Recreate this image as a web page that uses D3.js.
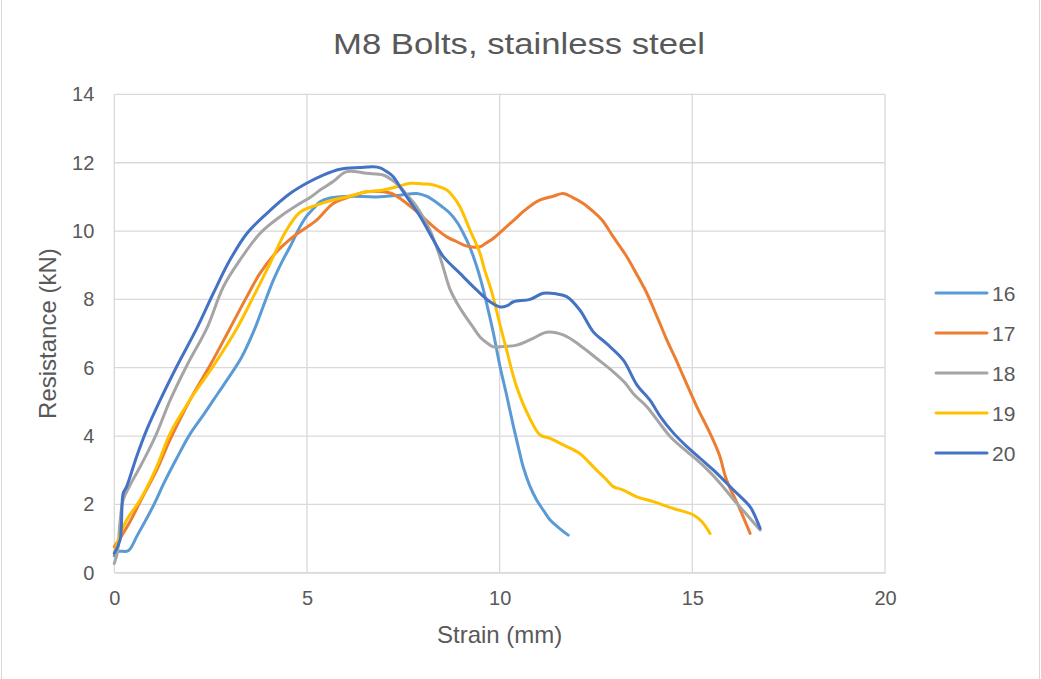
<!DOCTYPE html>
<html lang="en">
<head>
  <meta charset="UTF-8">
  <title>M8 Bolts, stainless steel</title>
  <script src="https://d3js.org/d3.v7.min.js"></script>
  <style>
    body {
      background: #fff;
      margin: 0;
    }
    text {
      font-family: 'Liberation Sans', Arial, sans-serif;
      fill: #595959;
    }
  </style>
</head>
<body>
  <script>
    // series names (legend)
    var seriesNames = ["16", "17", "18", "19", "20"];
    var seriesColors = ["#5B9BD5", "#ED7D31", "#A5A5A5", "#FFC000", "#4472C4"];

    // [strain (mm), resistance (kN)]
    var s16 = [[0,0.5],[0.1,0.62],[0.36,0.64],[0.6,1.1],[1.0,1.93],[1.3,2.65],[1.62,3.35],[1.96,4.05],[2.3,4.6],[2.57,5.05],[2.9,5.6],[3.3,6.3],[3.63,7.1],[3.9,7.9],[4.13,8.57],[4.35,9.1],[4.56,9.54],[4.82,10.13],[5.0,10.45],[5.17,10.66],[5.34,10.86],[5.6,10.97],[6.12,11.02],[6.8,11.0],[7.41,11.05],[7.85,11.1],[8.1,11.02],[8.28,10.9],[8.5,10.72],[8.71,10.52],[8.9,10.25],[9.06,9.93],[9.2,9.6],[9.32,9.25],[9.45,8.8],[9.58,8.27],[9.7,7.7],[9.84,7.0],[10.01,6.03],[10.18,5.2],[10.36,4.27],[10.5,3.6],[10.61,3.1],[10.78,2.55],[10.96,2.13],[11.15,1.8],[11.31,1.54],[11.55,1.3],[11.78,1.1]];
    var s17 = [[0,0.76],[0.2,1.1],[0.41,1.5],[0.75,2.25],[1.1,3.0],[1.45,3.9],[1.96,5.05],[2.5,6.1],[3.0,7.15],[3.44,8.08],[3.78,8.76],[4.21,9.39],[4.5,9.7],[4.82,9.98],[5.25,10.32],[5.68,10.81],[6.1,11.0],[6.55,11.15],[6.98,11.15],[7.2,11.1],[7.41,10.96],[7.6,10.8],[7.85,10.57],[8.28,10.13],[8.63,9.83],[8.9,9.68],[9.15,9.56],[9.49,9.54],[9.65,9.65],[9.84,9.79],[10.18,10.13],[10.4,10.35],[10.61,10.57],[10.85,10.78],[11.05,10.91],[11.39,11.02],[11.65,11.1],[11.9,10.98],[12.17,10.81],[12.4,10.6],[12.65,10.33],[12.95,9.83],[13.3,9.25],[13.55,8.75],[13.82,8.18],[14.1,7.45],[14.34,6.81],[14.55,6.3],[14.77,5.74],[15.1,4.9],[15.46,4.08],[15.7,3.45],[15.89,2.71],[16.2,1.95],[16.5,1.15]];
    var s18 = [[0,0.27],[0.08,0.6],[0.15,1.5],[0.23,2.13],[0.45,2.65],[0.67,3.1],[0.9,3.6],[1.1,4.08],[1.45,5.05],[1.9,6.1],[2.4,7.15],[2.83,8.37],[3.26,9.15],[3.78,9.93],[4.3,10.42],[4.82,10.81],[5.1,11.0],[5.34,11.2],[5.68,11.45],[6.03,11.74],[6.55,11.69],[6.98,11.64],[7.2,11.5],[7.41,11.3],[7.6,11.05],[7.85,10.71],[8.19,10.03],[8.45,9.25],[8.71,8.3],[8.9,7.88],[9.06,7.59],[9.3,7.2],[9.49,6.9],[9.7,6.7],[9.84,6.61],[10.1,6.62],[10.44,6.66],[10.87,6.86],[11.22,7.04],[11.65,6.96],[12.08,6.66],[12.52,6.27],[12.95,5.88],[13.25,5.56],[13.5,5.2],[13.82,4.86],[14.1,4.45],[14.43,3.98],[14.8,3.6],[15.12,3.3],[15.45,2.95],[15.72,2.62],[16.15,2.03],[16.45,1.65],[16.76,1.25]];
    var s19 = [[0,0.57],[0.15,1.1],[0.32,1.54],[0.67,2.13],[1.1,3.1],[1.45,4.08],[1.96,5.05],[2.6,6.1],[3.18,7.15],[3.61,8.08],[4.04,9.05],[4.47,10.03],[4.82,10.55],[5.25,10.76],[5.68,10.91],[6.1,11.02],[6.55,11.15],[6.98,11.2],[7.4,11.32],[7.68,11.4],[8.0,11.38],[8.28,11.35],[8.63,11.2],[8.8,11.0],[8.97,10.71],[9.23,10.03],[9.49,9.35],[9.6,8.9],[9.8,8.2],[10.0,7.3],[10.18,6.52],[10.44,5.44],[10.79,4.5],[11.05,4.03],[11.31,3.93],[11.65,3.74],[12.08,3.49],[12.3,3.25],[12.52,3.0],[12.75,2.75],[12.95,2.52],[13.21,2.42],[13.56,2.22],[13.99,2.08],[14.51,1.88],[15.03,1.69],[15.25,1.49],[15.46,1.15]];
    var s20 = [[0,0.57],[0.15,0.96],[0.23,2.32],[0.32,2.52],[0.58,3.4],[0.84,4.18],[1.19,5.05],[1.65,6.1],[2.14,7.15],[2.57,8.18],[3.0,9.15],[3.44,9.93],[3.96,10.52],[4.56,11.1],[4.99,11.4],[5.42,11.64],[5.86,11.81],[6.38,11.86],[6.72,11.88],[6.9,11.85],[7.07,11.74],[7.24,11.59],[7.41,11.3],[7.59,11.0],[7.94,10.42],[8.28,9.74],[8.54,9.25],[8.97,8.76],[9.41,8.27],[9.75,7.93],[10.01,7.78],[10.2,7.82],[10.36,7.93],[10.79,8.0],[11.13,8.18],[11.48,8.16],[11.74,8.08],[12.08,7.69],[12.43,7.05],[12.77,6.71],[13.21,6.22],[13.56,5.5],[13.9,5.05],[14.17,4.57],[14.5,4.1],[14.86,3.69],[15.2,3.35],[15.55,3.0],[16.07,2.42],[16.5,1.93],[16.65,1.6],[16.76,1.3]];

    var xTicks = [0, 5, 10, 15, 20];
    var yTicks = [0, 2, 4, 6, 8, 10, 12, 14];

    var series = [s16, s17, s18, s19, s20].map(function(values, i) {
      return { name: seriesNames[i], color: seriesColors[i], values: values };
    });

    var width = 1041, height = 679;
    var margin = { top: 94.4, right: 156, bottom: 106.3, left: 114.3 };

    var svg = d3.select("body").append("svg")
      .attr("width", width)
      .attr("height", height);

    // outer chart border
    svg.append("rect")
      .attr("x", 1.5).attr("y", -2)
      .attr("width", 1038).attr("height", height + 10)
      .attr("fill", "none")
      .attr("stroke", "#d9d9d9");

    var x = d3.scaleLinear().domain([0, 20]).range([margin.left, width - margin.right]);
    var y = d3.scaleLinear().domain([0, 14]).range([height - margin.bottom, margin.top]);

    // grid
    svg.append("g")
      .selectAll("line.h")
      .data(yTicks)
      .enter().append("line")
      .attr("x1", x(0)).attr("x2", x(20))
      .attr("y1", function(d) { return y(d); })
      .attr("y2", function(d) { return y(d); })
      .attr("stroke", "#d9d9d9")
      .attr("stroke-width", 1.3);

    svg.append("g")
      .selectAll("line.v")
      .data(xTicks)
      .enter().append("line")
      .attr("y1", y(0)).attr("y2", y(14))
      .attr("x1", function(d) { return x(d); })
      .attr("x2", function(d) { return x(d); })
      .attr("stroke", "#d9d9d9")
      .attr("stroke-width", 1.3);

    // axes (labels only, Excel style)
    var xAxis = svg.append("g")
      .attr("transform", "translate(0," + y(0) + ")")
      .call(d3.axisBottom(x).tickValues(xTicks).tickSize(0).tickPadding(18));
    xAxis.select(".domain").attr("stroke", "#d9d9d9").attr("stroke-width", 1.3);
    xAxis.selectAll("text")
      .style("font-size", "20px")
      .attr("fill", "#595959");

    var yAxis = svg.append("g")
      .attr("transform", "translate(" + x(0) + ",0)")
      .call(d3.axisLeft(y).tickValues(yTicks).tickSize(0).tickPadding(20));
    yAxis.select(".domain").remove();
    yAxis.selectAll("text")
      .style("font-size", "20px")
      .attr("fill", "#595959");

    // series lines
    var line = d3.line()
      .x(function(d) { return x(d[0]); })
      .y(function(d) { return y(d[1]); })
      .curve(d3.curveCatmullRom.alpha(0.5));

    svg.append("g")
      .selectAll("path")
      .data(series)
      .enter().append("path")
      .attr("d", function(d) { return line(d.values); })
      .attr("fill", "none")
      .attr("stroke", function(d) { return d.color; })
      .attr("stroke-width", 3)
      .attr("stroke-linejoin", "round")
      .attr("stroke-linecap", "round");

    // titles
    svg.append("text")
      .attr("x", 519).attr("y", 54)
      .attr("text-anchor", "middle")
      .style("font-size", "29px")
      .attr("textLength", 372)
      .attr("lengthAdjust", "spacingAndGlyphs")
      .text("M8 Bolts, stainless steel");

    svg.append("text")
      .attr("x", (x(0) + x(20)) / 2).attr("y", 643)
      .attr("text-anchor", "middle")
      .style("font-size", "24px")
      .text("Strain (mm)");

    svg.append("text")
      .attr("transform", "translate(56," + (y(0) + y(14)) / 2 + ") rotate(-90)")
      .attr("text-anchor", "middle")
      .style("font-size", "24px")
      .text("Resistance (kN)");

    // legend
    var legend = svg.append("g")
      .selectAll("g")
      .data(series)
      .enter().append("g")
      .attr("transform", function(d, i) { return "translate(936," + (293 + i * 40) + ")"; });

    legend.append("line")
      .attr("x1", 0).attr("x2", 51)
      .attr("stroke", function(d) { return d.color; })
      .attr("stroke-width", 3)
      .attr("stroke-linecap", "round");

    legend.append("text")
      .attr("x", 56).attr("y", 7.5)
      .style("font-size", "21px")
      .text(function(d) { return d.name; });
  </script>
</body>
</html>
